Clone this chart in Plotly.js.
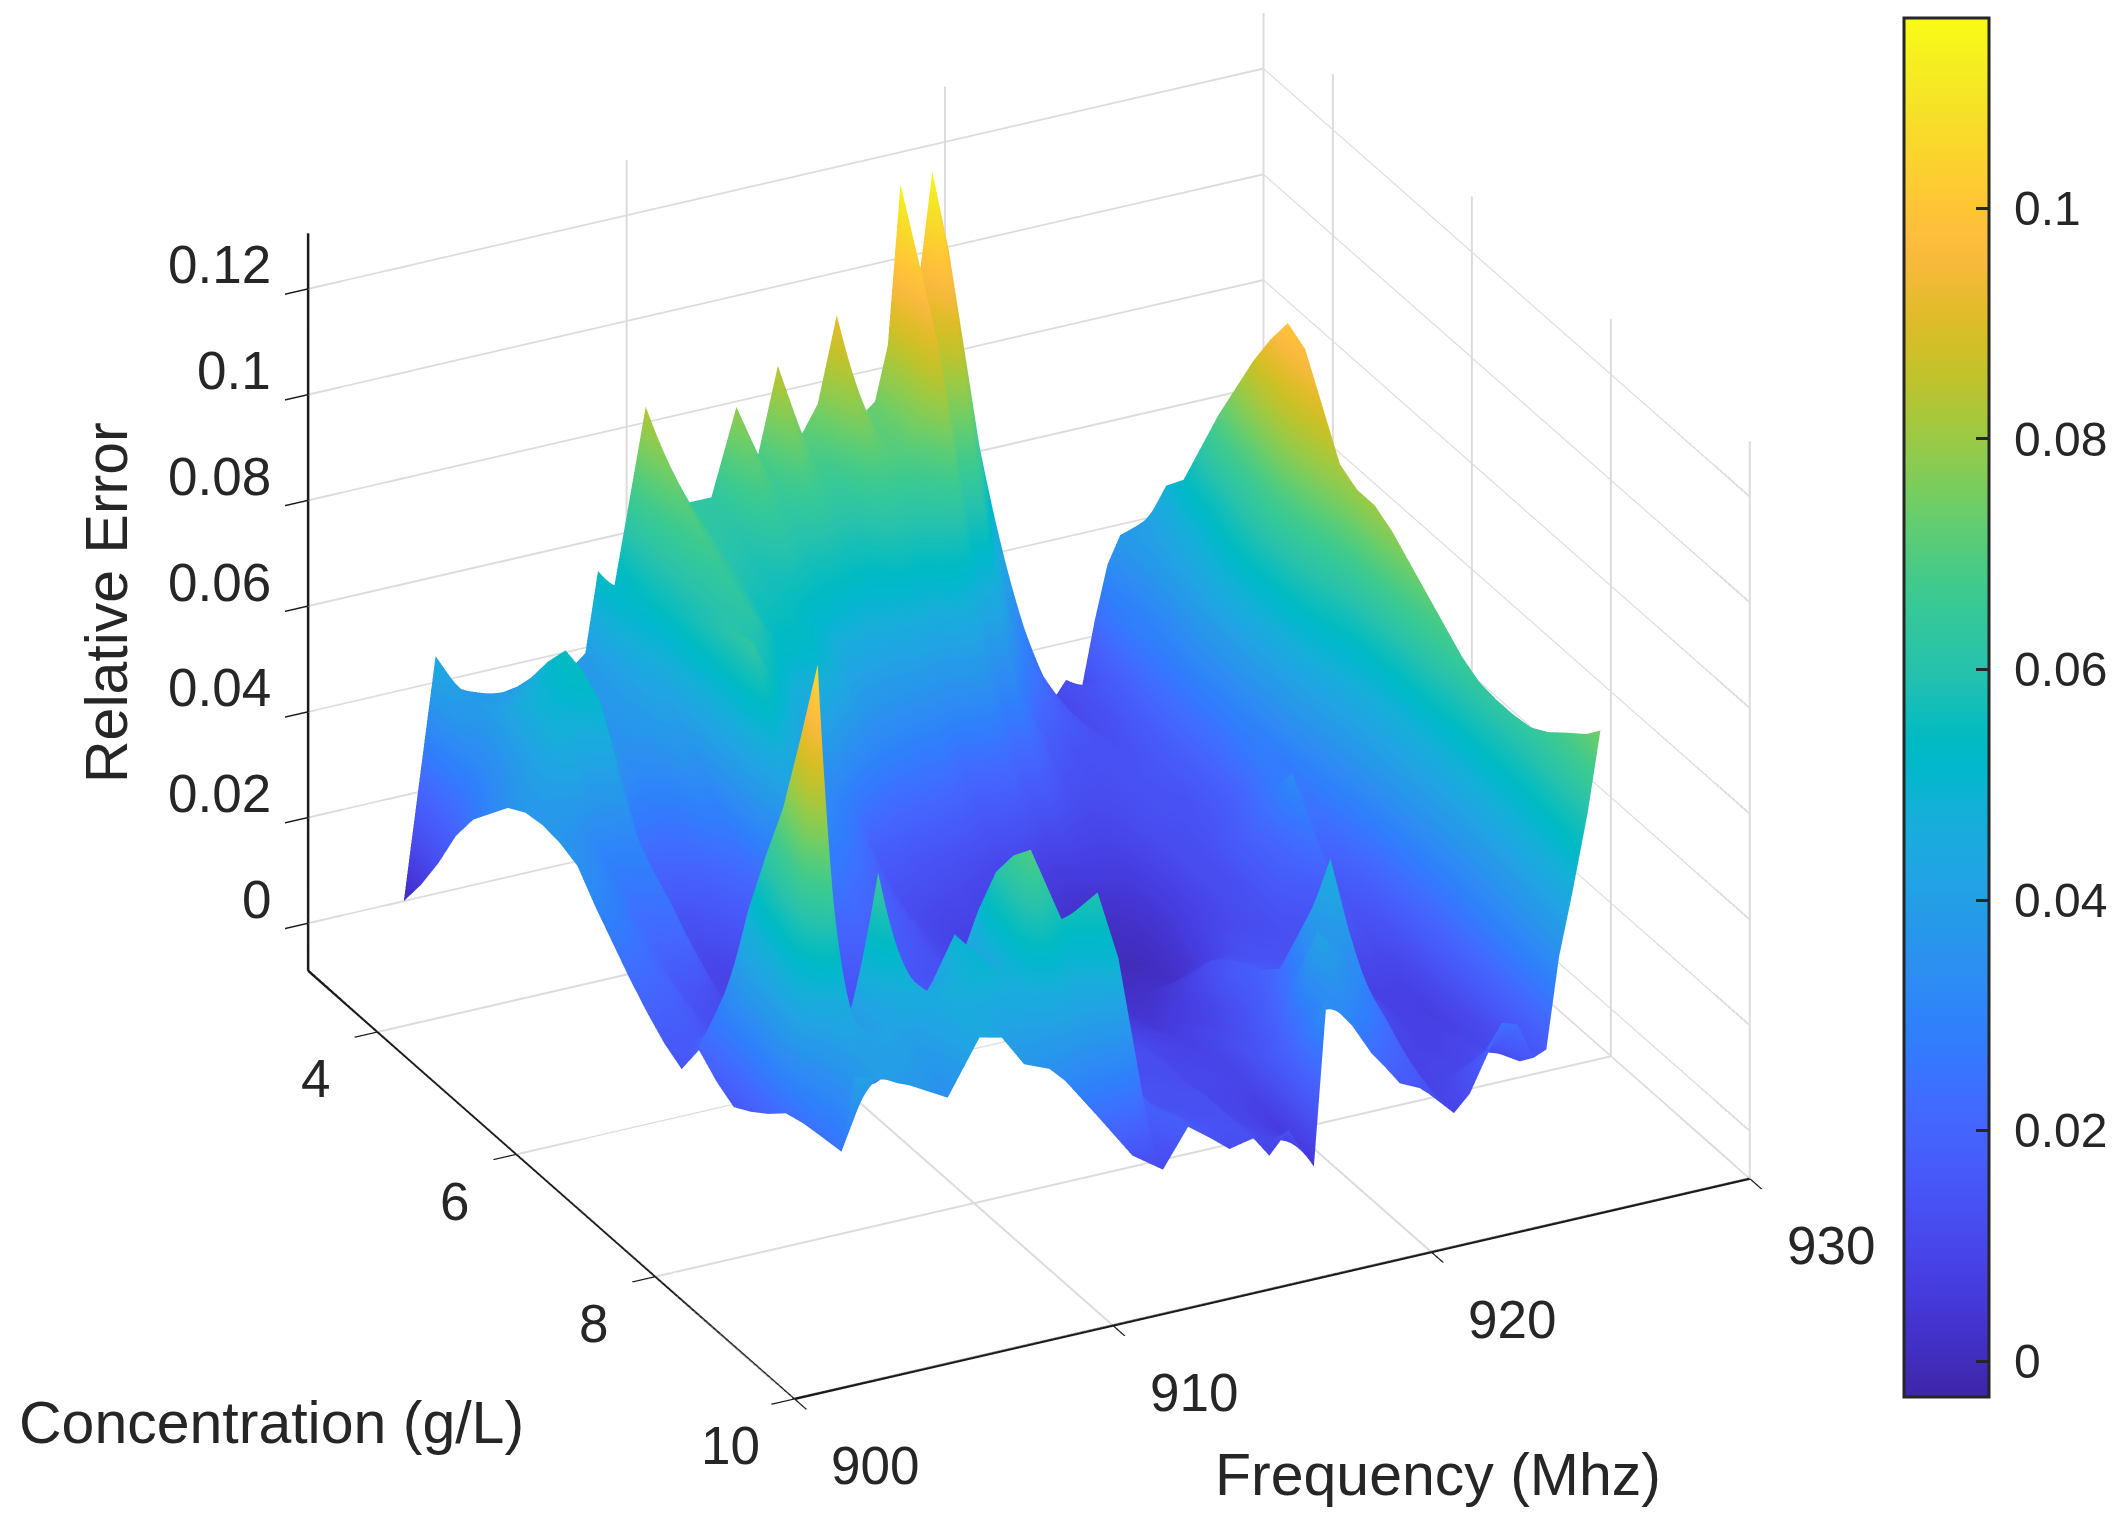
<!DOCTYPE html>
<html><head><meta charset="utf-8">
<script src="https://cdn.plot.ly/plotly-3.0.1.min.js"></script>
<style>html,body{margin:0;padding:0;background:#fff}</style></head>
<body><div id="chart" style="width:2128px;height:1524px"></div>
<script>
// Concentration samples (g/L)
const concentration = [3,3.25,3.5,3.75,4,4.25,4.5,4.75,5,5.25,5.5,5.75,6,6.25,6.5,6.75,7,7.25,7.5,7.75,8,8.25,8.5,8.75,9,9.3,9.5];
// Frequency samples (MHz)
const frequency = [903,904,904.3,904.7,905,905.9,906.9,907.6,908.3,908.7,909.1,909.6,910.6,911.7,912.66,913.45,914.13,914.75,915.5,916,916.6,917.4,917.8,918.2,918.6,919.2,919.6,920.1,920.8,921.8,922.3,923.3,923.8,924.3,924.7,925.1,925.5,926,926.4];
// Relative error x 1000: one row per frequency, one value per concentration
const errorPerMille = [
[0,6,13,21,27,31,35,37,37.5,37,35.6,31,27,23,19.5,16.5,14.5,21,18,16,18,20.5,23.5,24.5,25,25.5,42],
[45,38,33,33,36,39,42,41,36,33,30,27,24,21,18,16,20.5,33,49,62,74,90,107,47,40,40,40],
[42,39,35,36,40,43,45,42,34,31,28,25,22,20,17,15,18,28,40,52,62,72,73,44,40,40,39],
[38,39,40,43,47,49,48,42,31,28,25,22,19,17,15,14,14,18,22,27,32,38,43,41,41,40,38],
[37,38,40,44,48,50,46,38,31,27,24,21,16,14,13,13,12,13,14,17,20,27,35,39,42,40,37],
[35,39,44,50,55,54,51,40,32,28,25,21,14,11,9,9,9,10,12,15,20,40,65,50,40,36,34],
[36,36,37,38,38,36,28,20,14,12,10,9,8,8,8,8,8,9,11,14,18,27,36,44,46,45,44],
[36,36,36,36,35,32,26,20,14,11,9,8,8,8,8,8,9,10,12,15,20,30,42,46,48,44,43],
[37,37,38,38,37,34,28,23,18,15,12,10,9,9,9,9,10,12,14,18,24,36,50,50,50,40,37],
[39,40,41,41,41,39,35,28,22,18,14,12,11,10,10,10,11,13,15,20,28,32,36,42,48,42,36],
[54,52,50,46,42,38,32,29,26,23,20,17,15,13,12,12,12,15,18,24,32,37,42,46,50,42,35],
[50,53,55,55,56,58,60,62,63,52,42,31,20,17,15,14,14,17,20,28,38,50,60,66,70,45,32],
[83,77,72,69,66,64,62,57,50,40,30,26,22,19,16,15,15,18,22,29,38,43,48,52,55,42,24],
[63,63,62,60,58,55,52,44,35,30,25,21,18,16,14,14,14,16,18,23,28,34,40,50,59,50,15],
[63,62,60,58,56,54,52,40,28,22,18,16,14,13,12,12,12,13,14,16,18,21,25,24,22,16,11],
[79,72,65,60,54,50,45,30,18,14,12,11,10,9,9,9,10,10,11,12,13,14,15,15,16,18,18],
[69,66,62,57,52,44,36,25,17,13,10,9,8,8,8,8,9,9,10,11,12,12,13,13,14,15,15],
[85,74,65,57,50,41,32,22,15,12,9,8,7,7,7,7,8,9,10,11,12,12,13,13,13,14,12],
[71,67,62,55,48,39,30,21,14,11,9,8,7,7,7,7,8,9,10,11,12,12,12,13,13,13,13],
[76,69,62,55,48,38,28,20,13,10,8,7,6,6,6,6,7,8,9,10,10,10,10,10,10,11,9],
[92,80,70,60,50,38,28,19,12,9,7,6,5,5,5,5,6,7,8,9,9,10,10,9,9,9,13],
[72,71,70,60,48,35,22,15,10,7,4,3,2,2,2,3,4,5,7,8,9,9,9,8,6,7,5],
[74,73,72,62,52,38,24,16,10,6,3,2,1,1,2,3,4,6,8,10,11,13,14,17,20,30,36],
[84,80,78,65,52,38,24,16,9,5,3,2,1,1,2,3,5,7,8,10,12,14,16,22,28,32,33],
[114,103,92,72,50,36,24,15,8,5,2,1,1,1,2,4,6,8,10,12,14,18,22,32,42,35,30],
[96,85,72,55,38,27,18,12,7,4,2,1,0,1,2,6,10,13,16,17,19,24,30,35,38,30,24],
[115,98,78,58,40,29,20,13,8,4,2,1,0,1,2,7,12,15,17,19,22,31,40,38,34,28,21],
[100,82,60,44,30,23,16,11,8,5,3,2,2,3,5,8,12,14,16,17,18,32,48,38,30,22,17],
[70,54,38,29,20,15,12,10,8,6,5,5,6,8,10,12,13,14,15,15,16,16,16,19,22,18,15],
[38,31,24,19,14,13,12,12,12,12,12,12,12,12,12,12,13,13,14,13,12,10,9,8,8,9,9],
[24,21,18,16,14,13,13,13,13,12,12,12,12,13,14,14,13,13,14,14,13,11,9,9,9,11,12],
[9,10,11,12,13,14,15,15,14,15,16,19,22,21,20,16,13,11,9,8,8,8,8,9,10,17,24],
[13,13,13,14,16,17,18,18,18,19,20,24,27,33,27,21,15,12,9,8,8,8,9,10,12,18,23],
[11,15,18,20,22,23,24,24,24,26,28,28,28,25,18,15,13,11,9,8,7,8,9,10,11,13,16],
[23,26,28,28,28,29,30,30,30,29,28,27,26,24,22,19,16,14,12,11,11,11,11,12,13,15,17],
[33,31,30,31,33,36,38,39,40,39,38,37,35,33,30,28,26,25,24,24,25,26,28,30,32,33,34],
[38,38,38,40,42,46,50,51,52,51,50,48,45,42,40,39,38,37,36,36,36,37,38,40,42,44,45],
[39,41,44,48,52,57,62,67,72,70,68,62,55,52,50,50,50,50,50,50,50,51,52,54,56,58,60],
[40,49,53,62,71,79,87,94,100,98,90,82,80,80,78,75,72,69,66,64,63.5,63.5,64,66,68.8,72,75]
];
const zTicks = [0,0.02,0.04,0.06,0.08,0.1,0.12];
const zTickText = ['0','0.02','0.04','0.06','0.08','0.1','0.12'];
const concTicks = [4,6,8,10];
const freqTicks = [900,910,920,930];
const barTicks = [0,0.02,0.04,0.06,0.08,0.1];
const barTickText = ['\u00a00','\u00a00.02','\u00a00.04','\u00a00.06','\u00a00.08','\u00a00.1'];
const parula = [[0.2422,0.1504,0.6603],[0.2504,0.165,0.7076],[0.2578,0.1818,0.7511],[0.2647,0.1978,0.7952],[0.2706,0.2147,0.8364],[0.2751,0.2342,0.871],[0.2783,0.2559,0.8991],[0.2803,0.2782,0.9221],[0.2813,0.3006,0.9414],[0.281,0.3228,0.9579],[0.2795,0.3447,0.9717],[0.276,0.3667,0.9829],[0.2699,0.3892,0.9906],[0.2602,0.4123,0.9952],[0.244,0.4358,0.9988],[0.2206,0.4603,0.9973],[0.1963,0.4847,0.9892],[0.1834,0.5074,0.9798],[0.1786,0.5289,0.9682],[0.1764,0.5499,0.952],[0.1687,0.5703,0.9359],[0.154,0.5902,0.9218],[0.146,0.6091,0.9079],[0.138,0.6276,0.8973],[0.1248,0.6459,0.8883],[0.1113,0.6635,0.8763],[0.0952,0.6798,0.8598],[0.0689,0.6948,0.8394],[0.0297,0.7082,0.8163],[0.0036,0.7203,0.7917],[0.0067,0.7312,0.766],[0.0433,0.7411,0.7394],[0.0964,0.75,0.712],[0.1408,0.7584,0.6842],[0.1717,0.767,0.6554],[0.1938,0.7758,0.6251],[0.2161,0.7843,0.5923],[0.247,0.7918,0.5567],[0.2906,0.7973,0.5188],[0.3406,0.8008,0.4789],[0.3909,0.8029,0.4354],[0.4456,0.8024,0.3909],[0.5044,0.7993,0.348],[0.5616,0.7942,0.3045],[0.6174,0.7876,0.2612],[0.672,0.7793,0.2227],[0.7242,0.7698,0.191],[0.7738,0.7598,0.1646],[0.8203,0.7498,0.1535],[0.8634,0.7406,0.1596],[0.9035,0.733,0.1774],[0.9393,0.7288,0.21],[0.9728,0.7298,0.2394],[0.9956,0.7434,0.2371],[0.997,0.7659,0.2199],[0.9952,0.7893,0.2028],[0.9892,0.8136,0.1885],[0.9786,0.8386,0.1766],[0.9676,0.8639,0.1643],[0.961,0.889,0.1537],[0.9597,0.9135,0.1423],[0.9628,0.9373,0.1265],[0.9691,0.9606,0.1064],[0.9769,0.9839,0.0805]];

const xMin=900,xMax=930,yFront=10,yBack=3,zMin=-0.009,zMax=0.1305;
const colorscale = parula.map((c,i)=>[i/(parula.length-1),'rgb('+c.map(v=>Math.round(v*255)).join(',')+')']);
const zGrid = concentration.map((_,j)=>errorPerMille.map(col=>col[j]/1000));
const FONT = '"Liberation Sans", Arial, sans-serif';
const INK = '#262626';
const GRID = '#dcdcdc';
const axisBase = {showbackground:false,showgrid:true,gridcolor:GRID,gridwidth:3,zeroline:false,
  showline:true,linecolor:'#1a1a1a',linewidth:3,ticks:'outside',tickcolor:'#1a1a1a',ticklen:26,tickwidth:3,
  showticklabels:false,showspikes:false,title:{text:''},autorange:false};
const tickNote = (x,y,z,t,xs,ys,anchor)=>({x,y,z,text:t,showarrow:false,xshift:xs,yshift:ys,xanchor:anchor||'center',yanchor:'middle',font:{family:FONT,size:53,color:INK}});
const sceneNotes = [
  ...zTicks.map((v,i)=>tickNote(xMin,yBack,v,zTickText[i],-35,24,'right')),
  ...concTicks.map(v=>tickNote(xMin,v,zMin,String(v),v===10?-64:-62,-47)),
  ...freqTicks.map(v=>tickNote(v,yFront,zMin,String(v),81,-67))
];
const paperNote=(px,py,t,angle)=>({xref:'paper',yref:'paper',x:px/2128,y:1-py/1524,text:t,showarrow:false,textangle:angle||0,xanchor:'center',yanchor:'middle',font:{family:FONT,size:59,color:INK}});
// thick grid and axis lines built from the tick arrays
const gx=[],gy=[],gz=[];
const seg=(a,b)=>{gx.push(a[0],b[0],null);gy.push(a[1],b[1],null);gz.push(a[2],b[2],null);};
freqTicks.forEach(f=>{seg([f,yFront,zMin],[f,yBack,zMin]);seg([f,yBack,zMin],[f,yBack,zMax]);});
concTicks.forEach(c=>{seg([xMin,c,zMin],[xMax,c,zMin]);seg([xMax,c,zMin],[xMax,c,zMax]);});
zTicks.forEach(v=>{seg([xMin,yBack,v],[xMax,yBack,v]);seg([xMax,yBack,v],[xMax,yFront,v]);});
const gridTrace={type:'scatter3d',mode:'lines',x:gx,y:gy,z:gz,line:{color:GRID,width:4},hoverinfo:'skip',showlegend:false};
const ax=[],ay=[],az=[];
[[[xMin,yFront,zMin],[xMax,yFront,zMin]],[[xMin,yBack,zMin],[xMin,yFront,zMin]],[[xMin,yBack,zMin],[xMin,yBack,zMax]]].forEach(p=>{ax.push(p[0][0],p[1][0],null);ay.push(p[0][1],p[1][1],null);az.push(p[0][2],p[1][2],null);});
const axisTrace={type:'scatter3d',mode:'lines',x:ax,y:ay,z:az,line:{color:'#1a1a1a',width:5},hoverinfo:'skip',showlegend:false};
const trace={type:'surface',x:frequency,y:concentration,z:zGrid,colorscale,cmin:-0.0031,cmax:0.1165,
  hoverinfo:'skip',lighting:{ambient:1,diffuse:0,specular:0,roughness:1,fresnel:0},
  contours:{x:{show:false},y:{show:false},z:{show:false}},
  colorbar:{x:1904/2128,xanchor:'left',xpad:0,y:1-18/1524,yanchor:'top',ypad:0,len:1379/1524,lenmode:'fraction',thickness:85,thicknessmode:'pixels',
    outlinecolor:'#262626',outlinewidth:3,ticks:'inside',ticklen:14,tickwidth:3,tickcolor:'#262626',tickvals:barTicks,ticktext:barTickText,
    tickfont:{family:FONT,size:48,color:INK}}};
const layout={width:2128,height:1524,margin:{l:0,r:0,t:0,b:0},paper_bgcolor:'#fff',showlegend:false,
  scene:{domain:{x:[0,0.967],y:[0.0735,1]},aspectmode:'manual',aspectratio:{x:1.52,y:1.512,z:1.17},
    camera:{projection:{type:'orthographic'},up:{x:0,y:0,z:1},center:{x:0,y:0,z:0},eye:{x:-0.65,y:-1.27,z:0.72}},
    xaxis:{...axisBase,range:[xMin,xMax],tickvals:freqTicks},
    yaxis:{...axisBase,range:[yFront,yBack],tickvals:concTicks},
    zaxis:{...axisBase,range:[zMin,zMax],tickvals:zTicks},
    annotations:sceneNotes},
  annotations:[paperNote(271,1423,'Concentration (g/L)'),paperNote(1438,1475,'Frequency (Mhz)'),paperNote(107,603,'Relative Error',-90)]};
Plotly.newPlot('chart',[gridTrace,axisTrace,trace],layout,{displayModeBar:false});
</script></body></html>
